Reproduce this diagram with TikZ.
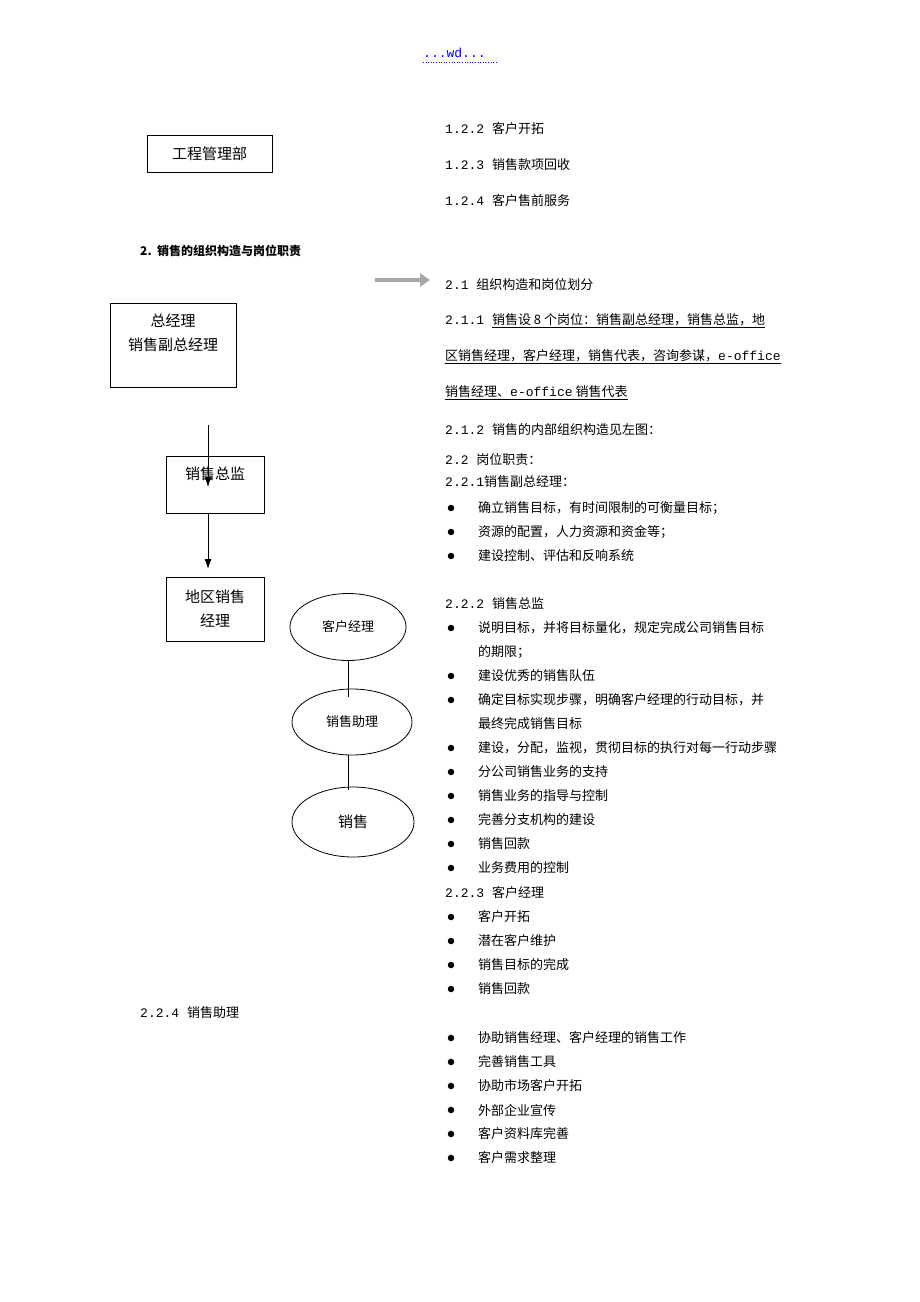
\documentclass[tikz,border=0pt]{standalone}
\usepackage{fontspec}
\setmainfont{Noto Sans CJK SC}
\newfontfamily\monof{Liberation Mono}
\usetikzlibrary{arrows.meta,shapes.geometric}
\begin{document}
\begin{tikzpicture}[x=1pt,y=-1pt,
  bx/.style={draw,line width=0.8pt,inner sep=0pt},
  bt/.style={font=\fontsize{15}{24}\selectfont,align=center},
  tx/.style={anchor=west,font=\fontsize{13}{15}\selectfont,inner sep=0pt},
  bl/.style={circle,fill=black,inner sep=0pt,minimum size=6.5pt},
  el/.style={draw,ellipse,line width=0.8pt,inner sep=0pt,font=\fontsize{13}{15}\selectfont},
  ar/.style={-{Latex[length=10pt,width=7pt]},line width=0.9pt}]
\useasboundingbox (0,0) rectangle (920,1302);
\node[tx,text=blue] (wd) at (423,53) {\monof ...wd...};
\draw[blue,dotted,line width=0.6pt] (423,62) -- (497,62);
\node[bx,minimum width=125pt,minimum height=37pt,bt] (gc) at (209.5,153.5) {工程管理部};
\node[tx] (a1) at (445,129) {\monof 1.2.2 \normalfont 客户开拓};
\node[tx] (a2) at (445,165) {\monof 1.2.3 \normalfont 销售款项回收};
\node[tx] (a3) at (445,201) {\monof 1.2.4 \normalfont 客户售前服务};
\node[tx,font=\fontsize{12}{14}\selectfont\bfseries\itshape] (h2) at (140,251) {2.\ \ 销售的组织构造与岗位职责};
\coordinate (ga) at (375,280);
\coordinate (gb) at (430,280);
\draw[-{Triangle[length=10pt,width=13pt]},draw=gray!70,fill=gray!70,line width=3.5pt] (ga) -- (gb);
\node[tx] (b1) at (445,285) {\monof 2.1 \normalfont 组织构造和岗位划分};
\node[tx] (b2) at (445,321) {\monof 2.1.1 \normalfont\underline{销售设 8 个岗位：销售副总经理，销售总监，地}};
\node[tx] (b3) at (445,357) {\underline{区销售经理，客户经理，销售代表，咨询参谋，{\monof e-office}}};
\node[tx] (b4) at (445,393) {\underline{销售经理、{\monof e-office} 销售代表}};
\node[tx] (b5) at (445,430) {\monof 2.1.2 \normalfont 销售的内部组织构造见左图：};
\node[tx] (b6) at (445,460) {\monof 2.2 \normalfont 岗位职责：};
\node[tx] (b7) at (445,482) {\monof 2.2.1\normalfont 销售副总经理：};
\foreach \y/\t in {508/确立销售目标，有时间限制的可衡量目标；,532/资源的配置，人力资源和资金等；,556/建设控制、评估和反响系统,
  628/说明目标，并将目标量化，规定完成公司销售目标,676/建设优秀的销售队伍,700/确定目标实现步骤，明确客户经理的行动目标，并,748/建设，分配，监视，贯彻目标的执行对每一行动步骤,772/分公司销售业务的支持,796/销售业务的指导与控制,820/完善分支机构的建设,844/销售回款,868/业务费用的控制,
  917/客户开拓,941/潜在客户维护,965/销售目标的完成,989/销售回款,
  1038/协助销售经理、客户经理的销售工作,1062/完善销售工具,1086/协助市场客户开拓,1110/外部企业宣传,1134/客户资料库完善,1158/客户需求整理}
  {\node[bl] at (451,\y) {}; \node[tx] at (478,\y) {\t};}
\node[tx] (c0) at (445,604) {\monof 2.2.2 \normalfont 销售总监};
\node[tx] (c1) at (478,652) {的期限；};
\node[tx] (c2) at (478,724) {最终完成销售目标};
\node[tx] (c3) at (445,893) {\monof 2.2.3 \normalfont 客户经理};
\node[tx] (c4) at (140,1013) {\monof 2.2.4 \normalfont 销售助理};
% org chart
\node[bx,minimum width=126pt,minimum height=84pt] (zj) at (173,345) {};
\node[bt] at (173,333) {总经理\\销售副总经理};
\node[bx,minimum width=98pt,minimum height=57pt] (zz) at (215,484.5) {};
\node[bt] at (215,474) {销售总监};
\coordinate (s1) at (208,425);
\coordinate (s1e) at (208,487);
\draw[ar] (s1) -- (s1e);
\coordinate (s2) at (208,513);
\coordinate (s2e) at (208,569);
\draw[ar] (s2) -- (s2e);
\node[bx,minimum width=98pt,minimum height=64pt,bt] (dq) at (215,609) {地区销售\\经理};
\node[el,minimum width=116pt,minimum height=67pt] (kh) at (348,627) {客户经理};
\node[el,minimum width=120pt,minimum height=66pt] (zl) at (352,722) {销售助理};
\node[el,minimum width=122pt,minimum height=70pt,font=\fontsize{15}{17}\selectfont] (xs) at (353,822) {销售};
\coordinate (l1a) at (348,660.5);
\coordinate (l1b) at (348,697);
\draw[line width=0.8pt] (l1a) -- (l1b);
\coordinate (l2a) at (348,755);
\coordinate (l2b) at (348,790);
\draw[line width=0.8pt] (l2a) -- (l2b);
\end{tikzpicture}
\end{document}
